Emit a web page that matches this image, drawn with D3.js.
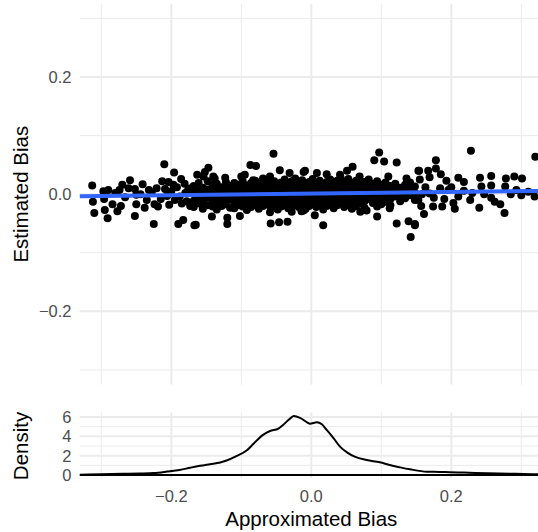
<!DOCTYPE html>
<html>
<head>
<meta charset="utf-8">
<script src="https://cdn.jsdelivr.net/npm/d3@7"></script>
<style>
html,body{margin:0;padding:0;background:#fff;}
svg{display:block;font-family:"Liberation Sans",Arial,Helvetica,sans-serif;}
</style>
</head>
<body>
<svg id="chart" width="538" height="532"></svg>
<script>
// ---------- data ----------
const scatterPoints = [
[-0.313,0.015],[-0.310,-0.032],[-0.312,-0.013],[-0.297,0.005],[-0.290,0.007],[-0.296,-0.008],[-0.295,-0.027],[-0.291,-0.041],[-0.284,-0.017],[-0.277,-0.029],[-0.272,-0.020],[-0.274,0.007],[-0.270,0.016],[-0.259,0.024],[-0.261,0.010],[-0.252,0.009],[-0.250,-0.001],[-0.250,-0.017],[-0.252,-0.037],[-0.241,0.017],[-0.238,-0.023],[-0.232,0.007],[-0.225,-0.051],[-0.224,-0.017],[-0.221,0.010],[-0.219,-0.021],[-0.213,0.022],[-0.210,0.051],[-0.209,0.009],[-0.204,0.021],[-0.196,0.037],[-0.197,0.016],[-0.195,-0.010],[-0.190,-0.051],[-0.183,-0.044],[-0.185,-0.016],[-0.176,0.007],[-0.172,0.010],[-0.167,-0.053],
[-0.228,0.003],[-0.215,-0.008],[-0.206,-0.003],[-0.200,0.005],[-0.192,0.012],[-0.188,-0.004],[-0.180,0.002],[-0.178,-0.012],[-0.186,0.026],[-0.235,-0.010],[-0.244,0.000],[-0.266,-0.005],[-0.280,0.002],[-0.203,-0.018],[-0.173,-0.020],[-0.181,0.018],
[-0.054,0.069],[-0.087,0.050],[-0.079,0.048],[-0.147,0.045],[-0.123,0.028],[-0.154,0.030],[-0.140,0.030],[-0.100,0.030],[-0.095,0.033],[-0.069,0.027],[-0.059,0.030],[-0.045,0.041],[-0.031,0.036],[-0.011,0.038],[-0.083,0.024],[-0.165,-0.052],[-0.142,-0.038],[-0.120,-0.040],[-0.120,-0.051],[-0.102,-0.037],[-0.058,-0.050],[-0.046,-0.048],[-0.034,-0.047],[-0.059,-0.031],[-0.028,-0.030],[-0.014,-0.029],[-0.163,0.033],[-0.152,0.038],[-0.138,0.027],
[-0.168,0.014],[-0.168,0.002],[-0.168,-0.011],[-0.168,-0.022],
[-0.161,0.019],[-0.161,0.006],[-0.161,-0.004],[-0.161,-0.016],
[-0.155,0.011],[-0.155,-0.001],[-0.155,-0.013],[-0.155,-0.025],
[-0.148,0.022],[-0.148,0.008],[-0.148,-0.006],[-0.148,-0.019],
[-0.141,0.015],[-0.141,0.003],[-0.141,-0.010],[-0.141,-0.021],
[-0.135,0.018],[-0.135,0.006],[-0.135,-0.003],[-0.135,-0.015],[-0.135,-0.026],
[-0.128,0.012],[-0.128,0.000],[-0.128,-0.012],[-0.128,-0.020],
[-0.122,0.021],[-0.122,0.009],[-0.122,-0.005],[-0.122,-0.017],
[-0.116,0.014],[-0.116,0.003],[-0.116,-0.009],[-0.116,-0.023],
[-0.110,0.019],[-0.110,0.007],[-0.110,-0.002],[-0.110,-0.014],[-0.110,-0.024],
[-0.104,0.016],[-0.104,0.004],[-0.104,-0.008],[-0.104,-0.019],
[-0.098,0.022],[-0.098,0.011],[-0.098,0.000],[-0.098,-0.011],[-0.098,-0.021],
[-0.092,0.015],[-0.092,0.005],[-0.092,-0.006],[-0.092,-0.016],[-0.092,-0.027],
[-0.086,0.019],[-0.086,0.008],[-0.086,-0.002],[-0.086,-0.013],[-0.086,-0.022],
[-0.080,0.013],[-0.080,0.002],[-0.080,-0.009],[-0.080,-0.018],[-0.080,0.023],
[-0.075,0.017],[-0.075,0.006],[-0.075,-0.004],[-0.075,-0.015],[-0.075,-0.025],
[-0.069,0.020],[-0.069,0.010],[-0.069,0.000],[-0.069,-0.011],[-0.069,-0.020],
[-0.064,0.014],[-0.064,0.004],[-0.064,-0.007],[-0.064,-0.017],[-0.064,0.024],
[-0.058,0.018],[-0.058,0.008],[-0.058,-0.003],[-0.058,-0.013],[-0.058,-0.023],
[-0.053,0.022],[-0.053,0.012],[-0.053,0.001],[-0.053,-0.009],[-0.053,-0.019],
[-0.048,0.016],[-0.048,0.005],[-0.048,-0.005],[-0.048,-0.015],[-0.048,-0.026],
[-0.043,0.020],[-0.043,0.009],[-0.043,-0.001],[-0.043,-0.012],[-0.043,-0.021],
[-0.038,0.014],[-0.038,0.003],[-0.038,-0.008],[-0.038,-0.018],[-0.038,0.025],
[-0.033,0.018],[-0.033,0.007],[-0.033,-0.003],[-0.033,-0.014],[-0.033,-0.024],
[-0.028,0.022],[-0.028,0.011],[-0.028,0.001],[-0.028,-0.010],[-0.028,-0.020],
[-0.023,0.015],[-0.023,0.005],[-0.023,-0.006],[-0.023,-0.016],[-0.023,0.027],
[-0.018,0.019],[-0.018,0.009],[-0.018,-0.002],[-0.018,-0.012],[-0.018,-0.022],
[-0.013,0.013],[-0.013,0.003],[-0.013,-0.008],[-0.013,-0.018],[-0.013,0.024],
[-0.008,0.017],[-0.008,0.007],[-0.008,-0.004],[-0.008,-0.014],[-0.008,-0.025],
[-0.003,0.021],[-0.003,0.011],[-0.003,0.000],[-0.003,-0.010],[-0.003,-0.020],
[0.097,0.071],[0.090,0.058],[0.104,0.056],[0.122,0.054],[0.059,0.047],[0.051,0.040],[0.069,0.030],[-0.009,0.040],[0.008,0.036],[0.022,0.034],[0.041,0.033],[0.110,0.030],[0.136,0.027],[0.153,0.040],[0.017,-0.053],[0.005,-0.036],[0.070,-0.030],[0.079,-0.028],[0.094,-0.038],[0.122,-0.050],[0.139,-0.046],[0.148,-0.051],[0.142,-0.073],[0.112,-0.024],[-0.011,-0.028],
[0.002,0.016],[0.002,0.006],[0.002,-0.005],[0.002,-0.015],[0.002,0.026],
[0.007,0.019],[0.007,0.009],[0.007,-0.001],[0.007,-0.011],[0.007,-0.022],
[0.012,0.023],[0.012,0.013],[0.012,0.003],[0.012,-0.007],[0.012,-0.018],
[0.017,0.017],[0.017,0.007],[0.017,-0.003],[0.017,-0.014],[0.017,-0.026],
[0.022,0.021],[0.022,0.011],[0.022,0.001],[0.022,-0.010],[0.022,-0.020],
[0.027,0.025],[0.027,0.015],[0.027,0.005],[0.027,-0.006],[0.027,-0.016],
[0.032,0.019],[0.032,0.008],[0.032,-0.002],[0.032,-0.012],[0.032,-0.024],
[0.037,0.023],[0.037,0.012],[0.037,0.002],[0.037,-0.008],[0.037,-0.019],
[0.042,0.017],[0.042,0.006],[0.042,-0.004],[0.042,-0.015],[0.042,0.028],
[0.047,0.021],[0.047,0.010],[0.047,0.000],[0.047,-0.011],[0.047,-0.022],
[0.053,0.026],[0.053,0.015],[0.053,0.004],[0.053,-0.007],[0.053,-0.018],
[0.058,0.019],[0.058,0.008],[0.058,-0.003],[0.058,-0.013],[0.058,-0.025],
[0.064,0.023],[0.064,0.012],[0.064,0.001],[0.064,-0.009],[0.064,-0.020],
[0.070,0.017],[0.070,0.006],[0.070,-0.005],[0.070,-0.016],
[0.076,0.021],[0.076,0.010],[0.076,-0.001],[0.076,-0.012],[0.076,-0.023],
[0.082,0.025],[0.082,0.014],[0.082,0.003],[0.082,-0.008],
[0.088,0.018],[0.088,0.007],[0.088,-0.004],[0.088,-0.015],
[0.094,0.022],[0.094,0.011],[0.094,0.000],[0.094,-0.011],[0.094,-0.021],
[0.100,0.016],[0.100,0.005],[0.100,-0.006],[0.100,-0.017],
[0.106,0.020],[0.106,0.009],[0.106,-0.002],[0.106,-0.013],
[0.113,0.014],[0.113,0.003],[0.113,-0.008],[0.113,-0.019],
[0.120,0.018],[0.120,0.007],[0.120,-0.004],
[0.127,0.011],[0.127,0.000],[0.127,-0.012],
[0.134,0.016],[0.134,0.005],[0.134,-0.007],
[0.141,0.009],[0.141,-0.002],[0.141,0.020],
[0.148,0.013],[0.148,0.002],[0.148,-0.010],
[0.228,0.074],[0.320,0.064],[0.178,0.058],[0.178,0.044],[0.154,0.040],[0.167,0.040],[0.185,0.034],[0.169,0.029],[0.155,0.025],[0.193,0.023],[0.210,0.028],[0.218,0.021],[0.241,0.028],[0.257,0.031],[0.278,0.027],[0.290,0.030],[0.301,0.027],[0.243,0.013],[0.257,0.015],[0.277,0.013],[0.293,0.007],[0.319,-0.004],[0.310,0.004],[0.148,-0.053],[0.161,-0.034],[0.174,-0.021],[0.187,-0.021],[0.205,-0.025],[0.227,-0.010],[0.240,-0.023],[0.262,-0.013],[0.270,-0.017],[0.276,-0.032],[0.257,-0.006],[0.210,-0.004],[0.203,-0.015],[0.153,-0.010],[0.158,0.000],[0.169,0.001],[0.184,0.010],[0.196,0.007],[0.163,0.012],[0.175,-0.006],[0.190,-0.008],[0.218,0.006],[0.230,0.002],[0.247,0.000],[0.285,0.000],[0.300,-0.002],[0.157,-0.020],[0.200,0.012]
];

// fitted linear trend (geom_smooth, method = "lm"), read at its ends
const fitX = [-0.331, 0.335];
const fitY = [-0.0034, 0.0057];

// density of the approximated bias
const densityX = [-0.331,-0.300,-0.270,-0.245,-0.225,-0.206,-0.188,-0.173,-0.159,-0.145,-0.130,-0.121,-0.107,-0.092,-0.083,-0.069,-0.059,-0.047,-0.040,-0.030,-0.025,-0.016,-0.006,-0.002,0.008,0.015,0.022,0.032,0.041,0.051,0.062,0.079,0.098,0.112,0.127,0.141,0.165,0.184,0.198,0.217,0.251,0.291,0.335];
const densityY = [0.03,0.08,0.12,0.15,0.20,0.35,0.52,0.75,0.95,1.12,1.30,1.50,1.95,2.55,3.20,4.15,4.55,4.80,5.20,5.85,6.10,5.90,5.45,5.31,5.45,5.24,4.66,3.79,2.93,2.34,1.90,1.55,1.31,1.03,0.79,0.59,0.34,0.32,0.28,0.25,0.18,0.12,0.06];

const xMajorTicks = [-0.2, 0.0, 0.2];
const xMinorTicks = [-0.3, -0.1, 0.1, 0.3];
const yMajorTicks = [-0.2, 0.0, 0.2];
const yMinorTicks = [-0.3, -0.1, 0.1, 0.3];
const dMajorTicks = [0, 2, 4, 6];
const dMinorTicks = [1, 3, 5];

// ---------- drawing ----------
const svg = d3.select("#chart");
const fmt = d => (d < 0 ? "\u2212" : "") + Math.abs(d).toFixed(1);

const panelLeft = 79.6, panelRight = 545.8;
const x = d3.scaleLinear().domain([-0.331, 0.335]).range([panelLeft, panelRight]);
const y = d3.scaleLinear().domain([-0.325, 0.325]).range([384.6, 3.8]);
const yd = d3.scaleLinear().domain([-0.31, 6.46]).range([478, 412.5]);

const grid = "#EBEBEB";
const tickColor = "#4D4D4D";

// clip paths
const defs = svg.append("defs");
defs.append("clipPath").attr("id","mainClip").append("rect")
  .attr("x", panelLeft).attr("y", y.range()[1]).attr("width", panelRight - panelLeft).attr("height", y.range()[0] - y.range()[1]);
defs.append("clipPath").attr("id","denClip").append("rect")
  .attr("x", panelLeft).attr("y", yd.range()[1]).attr("width", panelRight - panelLeft).attr("height", yd.range()[0] - yd.range()[1]);

// ---- main panel grid ----
const main = svg.append("g");
main.selectAll(".ymin").data(yMinorTicks).join("line")
  .attr("x1", panelLeft).attr("x2", panelRight).attr("y1", d => y(d)).attr("y2", d => y(d))
  .attr("stroke", grid).attr("stroke-width", 1);
main.selectAll(".xmin").data(xMinorTicks).join("line")
  .attr("x1", d => x(d)).attr("x2", d => x(d)).attr("y1", y.range()[1]).attr("y2", y.range()[0])
  .attr("stroke", grid).attr("stroke-width", 1);
main.selectAll(".ymaj").data(yMajorTicks).join("line")
  .attr("x1", panelLeft).attr("x2", panelRight).attr("y1", d => y(d)).attr("y2", d => y(d))
  .attr("stroke", grid).attr("stroke-width", 2);
main.selectAll(".xmaj").data(xMajorTicks).join("line")
  .attr("x1", d => x(d)).attr("x2", d => x(d)).attr("y1", y.range()[1]).attr("y2", y.range()[0])
  .attr("stroke", grid).attr("stroke-width", 2);

// points
const pts = svg.append("g").attr("clip-path","url(#mainClip)");
pts.selectAll("circle").data(scatterPoints).join("circle")
  .attr("cx", d => x(d[0])).attr("cy", d => y(d[1])).attr("r", 4).attr("fill", "#000");

// regression line
pts.append("line")
  .attr("x1", x(fitX[0])).attr("x2", x(fitX[1]))
  .attr("y1", y(fitY[0])).attr("y2", y(fitY[1]))
  .attr("stroke", "#3366FF").attr("stroke-width", 4);

// y tick labels
svg.append("g").selectAll("text").data(yMajorTicks).join("text")
  .attr("x", 71.5).attr("y", d => y(d)).attr("dy", "0.36em")
  .attr("text-anchor", "end").attr("font-size", 16.5).attr("fill", tickColor)
  .text(fmt);

svg.append("text")
  .attr("transform", `translate(28,${y(0)}) rotate(-90)`)
  .attr("text-anchor", "middle").attr("font-size", 20.5).attr("fill", "#000")
  .text("Estimated Bias");

// ---- density panel ----
const den = svg.append("g");
den.selectAll(".dymin").data(dMinorTicks).join("line")
  .attr("x1", panelLeft).attr("x2", panelRight).attr("y1", d => yd(d)).attr("y2", d => yd(d))
  .attr("stroke", grid).attr("stroke-width", 1);
den.selectAll(".dxmin").data(xMinorTicks).join("line")
  .attr("x1", d => x(d)).attr("x2", d => x(d)).attr("y1", yd.range()[1]).attr("y2", yd.range()[0])
  .attr("stroke", grid).attr("stroke-width", 1);
den.selectAll(".dymaj").data(dMajorTicks).join("line")
  .attr("x1", panelLeft).attr("x2", panelRight).attr("y1", d => yd(d)).attr("y2", d => yd(d))
  .attr("stroke", grid).attr("stroke-width", 2);
den.selectAll(".dxmaj").data(xMajorTicks).join("line")
  .attr("x1", d => x(d)).attr("x2", d => x(d)).attr("y1", yd.range()[1]).attr("y2", yd.range()[0])
  .attr("stroke", grid).attr("stroke-width", 2);

const denData = densityX.map((v, i) => [v, densityY[i]]);
const denG = svg.append("g").attr("clip-path","url(#denClip)");
denG.append("path")
  .datum(denData)
  .attr("d", d3.line().x(d => x(d[0])).y(d => yd(d[1])).curve(d3.curveMonotoneX))
  .attr("fill", "none").attr("stroke", "#000").attr("stroke-width", 2).attr("stroke-linejoin","round");
denG.append("line")
  .attr("x1", x(densityX[0])).attr("x2", x(densityX[densityX.length - 1]))
  .attr("y1", yd(0)).attr("y2", yd(0))
  .attr("stroke", "#000").attr("stroke-width", 2);

svg.append("g").selectAll("text").data(dMajorTicks).join("text")
  .attr("x", 71.5).attr("y", d => yd(d)).attr("dy", "0.36em")
  .attr("text-anchor", "end").attr("font-size", 16.5).attr("fill", tickColor)
  .text(d => d);

svg.append("text")
  .attr("transform", `translate(28,${yd(3)}) rotate(-90)`)
  .attr("text-anchor", "middle").attr("font-size", 20.5).attr("fill", "#000")
  .text("Density");

// x tick labels
svg.append("g").selectAll("text").data(xMajorTicks).join("text")
  .attr("x", d => x(d)).attr("y", 502)
  .attr("text-anchor", "middle").attr("font-size", 16.5).attr("fill", tickColor)
  .text(fmt);

svg.append("text")
  .attr("x", x(0)).attr("y", 526)
  .attr("text-anchor", "middle").attr("font-size", 20.5).attr("fill", "#000")
  .text("Approximated Bias");
</script>
</body>
</html>
